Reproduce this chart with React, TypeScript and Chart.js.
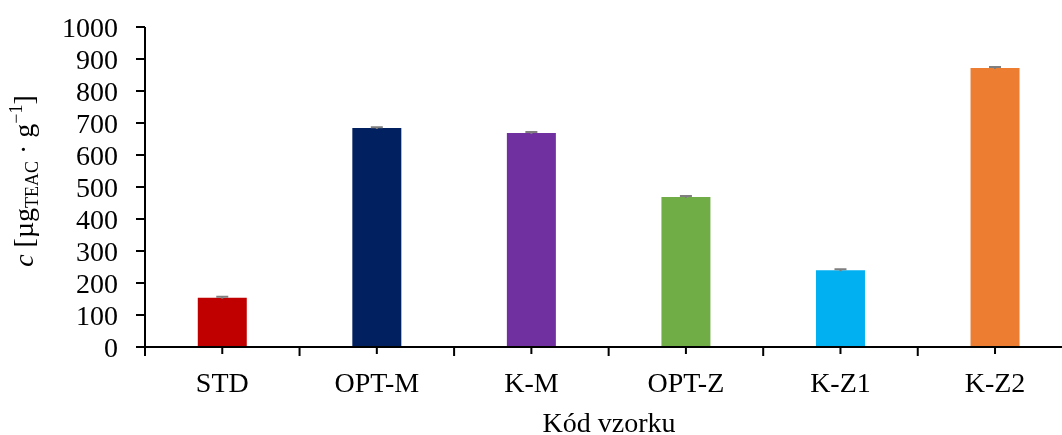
import { useEffect, useRef } from "react";
import { Chart, registerables } from "chart.js";

Chart.register(...registerables);

const categories = ["STD", "OPT-M", "K-M", "OPT-Z", "K-Z1", "K-Z2"];
const values = [154, 684, 669, 469, 240, 872];
const errors = [3, 3, 3, 3, 3, 3];
const barColors = ["#C00000", "#002060", "#7030A0", "#70AD47", "#00B0F0", "#ED7D31"];
const yTicks = [0, 100, 200, 300, 400, 500, 600, 700, 800, 900, 1000];
const xTitle = "Kód vzorku";

const FONT = "'Liberation Serif', 'Times New Roman', serif";

export default function App() {
  const ref = useRef<HTMLCanvasElement | null>(null);

  useEffect(() => {
    if (!ref.current) return;

    const axesPlugin = {
      id: "customAxes",
      afterDatasetsDraw(chart: any) {
        const ctx = chart.ctx as CanvasRenderingContext2D;
        const xs = chart.scales.x;
        const ys = chart.scales.y;
        ctx.save();
        // error bars
        ctx.strokeStyle = "#7F7F7F";
        ctx.lineWidth = 2;
        values.forEach((v, i) => {
          const cx = xs.getPixelForValue(i);
          const top = ys.getPixelForValue(v + errors[i]);
          const bot = ys.getPixelForValue(v - errors[i]);
          ctx.beginPath();
          ctx.moveTo(cx, bot);
          ctx.lineTo(cx, top);
          ctx.moveTo(cx - 6, top);
          ctx.lineTo(cx + 6, top);
          ctx.stroke();
        });
        ctx.restore();
      },
      afterDraw(chart: any) {
        const ctx = chart.ctx as CanvasRenderingContext2D;
        const xs = chart.scales.x;
        const ys = chart.scales.y;
        const area = chart.chartArea;
        ctx.save();
        ctx.strokeStyle = "#000";
        ctx.lineWidth = 2;
        // axis lines
        ctx.beginPath();
        ctx.moveTo(area.left, ys.getPixelForValue(1000));
        ctx.lineTo(area.left, area.bottom + 1);
        ctx.moveTo(area.left - 1, area.bottom);
        ctx.lineTo(chart.width, area.bottom);
        ctx.stroke();
        // y ticks
        ctx.beginPath();
        yTicks.forEach((t) => {
          const py = Math.round(ys.getPixelForValue(t));
          ctx.moveTo(area.left - 9, py);
          ctx.lineTo(area.left, py);
        });
        ctx.stroke();
        // x ticks (boundaries and centres)
        const step = xs.getPixelForValue(1) - xs.getPixelForValue(0);
        ctx.beginPath();
        for (let i = 0; i <= categories.length; i++) {
          const bx = xs.getPixelForValue(i) - step / 2;
          ctx.moveTo(bx, area.bottom);
          ctx.lineTo(bx, area.bottom + 9);
        }
        categories.forEach((_, i) => {
          const cx = xs.getPixelForValue(i);
          ctx.moveTo(cx, area.bottom);
          ctx.lineTo(cx, area.bottom + 7);
        });
        ctx.stroke();

        ctx.fillStyle = "#000";
        // y tick labels
        ctx.font = `28px ${FONT}`;
        ctx.textAlign = "right";
        ctx.textBaseline = "alphabetic";
        yTicks.forEach((t) => {
          const py = ys.getPixelForValue(t);
          ctx.fillText(String(t), 118, py + 9.5);
        });
        // x tick labels
        ctx.font = `28px ${FONT}`;
        ctx.textAlign = "center";
        categories.forEach((c, i) => {
          ctx.fillText(c, xs.getPixelForValue(i), 392);
        });
        // x title
        ctx.fillText(xTitle, 609, 432);

        // y title (rotated, with sub/superscript)
        const parts: { t: string; font: string; dy: number }[] = [
          { t: "c", font: `italic 28px ${FONT}`, dy: 0 },
          { t: " [µg", font: `28px ${FONT}`, dy: 0 },
          { t: "TEAC", font: `18px ${FONT}`, dy: 5 },
          { t: " · g", font: `28px ${FONT}`, dy: 0 },
          { t: "−1", font: `18px ${FONT}`, dy: -11 },
          { t: "]", font: `28px ${FONT}`, dy: 0 },
        ];
        let total = 0;
        const widths = parts.map((p) => {
          ctx.font = p.font;
          const w = ctx.measureText(p.t).width;
          total += w;
          return w;
        });
        ctx.translate(33, 181);
        ctx.rotate(-Math.PI / 2);
        ctx.textAlign = "left";
        let px = -total / 2;
        parts.forEach((p, i) => {
          ctx.font = p.font;
          ctx.fillText(p.t, px, p.dy);
          px += widths[i];
        });
        ctx.restore();
      },
    };

    const chart = new Chart(ref.current, {
      type: "bar",
      data: {
        labels: categories,
        datasets: [
          {
            data: values,
            backgroundColor: barColors,
            borderWidth: 0,
            barPercentage: 0.317,
            categoryPercentage: 1,
          },
        ],
      },
      options: {
        animation: false,
        responsive: false,
        devicePixelRatio: 1,
        layout: { padding: { left: 145, top: 27, bottom: 88, right: 1.7 } },
        plugins: { legend: { display: false }, tooltip: { enabled: false } },
        scales: {
          x: { display: false, offset: true },
          y: { display: false, min: 0, max: 1000 },
        },
      },
      plugins: [axesPlugin],
    });
    return () => chart.destroy();
  }, []);

  return (
    <div
      style={{
        position: "fixed",
        left: 0,
        top: 0,
        width: 1062,
        height: 435,
        overflow: "hidden",
        background: "#fff",
      }}
    >
      <canvas ref={ref} width={1074} height={435} style={{ display: "block" }} />
    </div>
  );
}
